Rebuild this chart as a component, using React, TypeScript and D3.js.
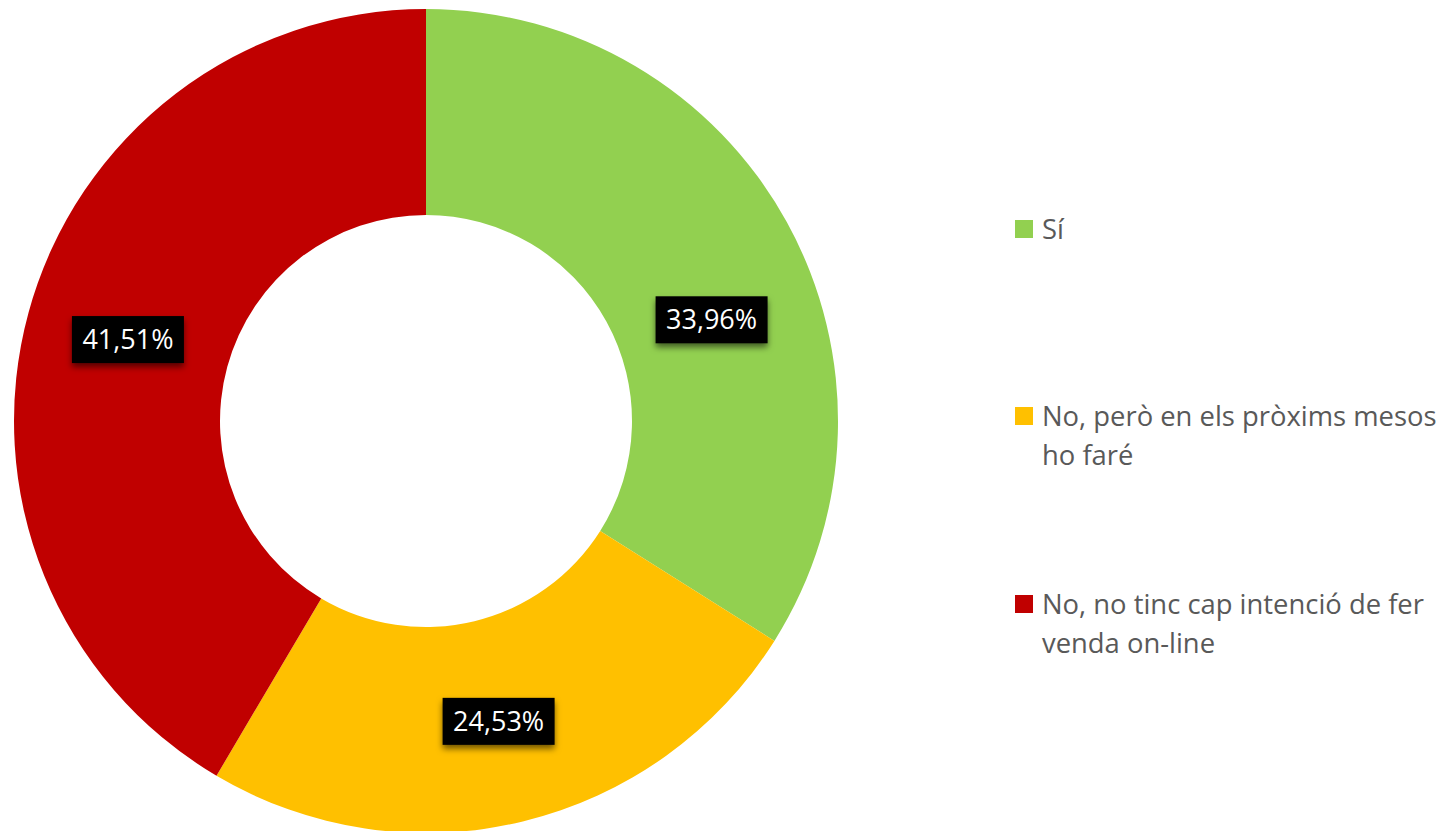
import React from "react";
import * as d3 from "d3";

const categories = ["Sí", "No, però en els pròxims mesos ho faré", "No, no tinc cap intenció de fer venda on-line"];
const legendLines = [["Sí"], ["No, però en els pròxims mesos", "ho faré"], ["No, no tinc cap intenció de fer", "venda on-line"]];
const values = [33.96, 24.53, 41.51];
const labels = ["33,96%", "24,53%", "41,51%"];
const colors = ["#92D050", "#FFC000", "#C00000"];
const labelNudge = [[15, 48], [0, 0], [0, 0]];

const W = 1456, H = 831;
const cx = 426, cy = 421, rOuter = 412, rInner = 206;
const FONT = "'Open Sans', Lato, sans-serif";

export default function App() {
  const pie = d3.pie<number>().sort(null).value((d) => d).startAngle(0).endAngle(2 * Math.PI);
  const arcs = pie(values);
  const arc = d3.arc<d3.PieArcDatum<number>>().innerRadius(rInner).outerRadius(rOuter);
  const legendY = [229, 416, 604];
  const lineH = 39;
  return (
    <svg width={W} height={H} style={{ position: "absolute", left: 0, top: 0, background: "#fff" }}>
      <defs>
        <filter id="sh" x="-30%" y="-30%" width="160%" height="180%">
          <feDropShadow dx="0" dy="4" stdDeviation="3" floodColor="#000" floodOpacity="0.55" />
        </filter>
      </defs>
      <g transform={`translate(${cx},${cy})`}>
        {arcs.map((a, i) => (
          <path key={i} d={arc(a) || ""} fill={colors[i]} />
        ))}
        {arcs.map((a, i) => {
          const [x, y] = arc.centroid(a);
          const lx = x + labelNudge[i][0];
          const ly = y + labelNudge[i][1];
          return (
            <g key={"l" + i} transform={`translate(${lx},${ly})`}>
              <rect x={-56} y={-23.5} width={112} height={47} fill="#000" filter="url(#sh)" />
              <text x={0} y={9.5} textAnchor="middle" fill="#fff" fontFamily={FONT} fontSize={27}>
                {labels[i]}
              </text>
            </g>
          );
        })}
      </g>
      <g>
        {categories.map((c, i) => (
          <g key={c}>
            <rect x={1015} y={legendY[i] - 9} width={18} height={18} fill={colors[i]} />
            <text x={1042} y={legendY[i] + 10} fontFamily={FONT} fontSize={27.4} fill="#595959">
              {legendLines[i].map((ln, j) => (
                <tspan key={j} x={1042} dy={j === 0 ? 0 : lineH}>{ln}</tspan>
              ))}
            </text>
          </g>
        ))}
      </g>
    </svg>
  );
}
